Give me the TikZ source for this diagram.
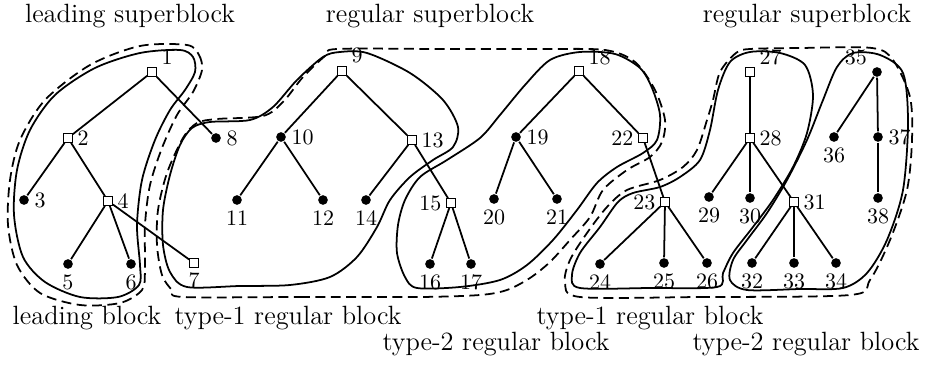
\documentclass[tikz,border=0pt]{standalone}
\begin{document}
\begin{tikzpicture}[
  x=0.4545pt, y=-0.4545pt,
  line width=0.8pt,
  sq/.style={draw, fill=white, inner sep=0pt, minimum size=3.8pt, line width=0.6pt},
  dot/.style={circle, fill, inner sep=0pt, minimum size=4.4pt},
  blk/.style={line width=0.8pt},
  sblk/.style={line width=0.8pt, dash pattern=on 4.5pt off 2.5pt},
  lbl/.style={font=\large, anchor=base},
  every label/.style={inner sep=1.8pt},
  label distance=0pt
]
\useasboundingbox (0,0) rectangle (928,369);

% leading superblock
\node[sq, label=30:1] (n1) at (152,72) {};
\node[sq, label=right:2] (n2) at (68,138) {};
\node[dot, label=right:3] (n3) at (24,200) {};
\node[sq, label=right:4] (n4) at (108,201) {};
\node[dot, label=below:5] (n5) at (68,264) {};
\node[dot, label=below:6] (n6) at (131,264) {};
\node[sq, label=below:7] (n7) at (194,263) {};
\node[dot, label=right:8] (n8) at (216,138) {};

% first regular superblock
\node[sq, label=30:9] (n9) at (342,71) {};
\node[dot, label=right:10] (n10) at (281,137) {};
\node[dot, label=below:11] (n11) at (237,200) {};
\node[dot, label=below:12] (n12) at (323,200) {};
\node[sq, label=right:13] (n13) at (412,140) {};
\node[dot, label=below:14] (n14) at (366,200) {};
\node[sq, label=left:15] (n15) at (451,203) {};
\node[dot, label=below:16] (n16) at (430,264) {};
\node[dot, label=below:17] (n17) at (471,264) {};
\node[sq, label=15:18] (n18) at (579,71) {};
\node[dot, label=right:19] (n19) at (516,137) {};
\node[dot, label=below:20] (n20) at (494,199) {};
\node[dot, label=below:21] (n21) at (557,199) {};
\node[sq, label=left:22] (n22) at (643,138) {};

% second regular superblock
\node[sq, label=left:23] (n23) at (665,202) {};
\node[dot, label=below:24] (n24) at (600,264) {};
\node[dot, label=below:25] (n25) at (664,263) {};
\node[dot, label=below:26] (n26) at (707,263) {};
\node[sq, label=20:27] (n27) at (750,72) {};
\node[sq, label=right:28] (n28) at (750,138) {};
\node[dot, label=below:29] (n29) at (709,197) {};
\node[dot, label=below:30] (n30) at (750,198) {};
\node[sq, label=right:31] (n31) at (794,202) {};
\node[dot, label=below:32] (n32) at (752,263) {};
\node[dot, label=below:33] (n33) at (794,263) {};
\node[dot, label=below:34] (n34) at (836,263) {};
\node[dot, label=160:35] (n35) at (877,72) {};
\node[dot, label=below:36] (n36) at (834,137) {};
\node[dot, label=right:37] (n37) at (878,137) {};
\node[dot, label=below:38] (n38) at (878,198) {};

% tree edges
\draw (n1) -- (n2);  \draw (n1) -- (n8);
\draw (n2) -- (n3);  \draw (n2) -- (n4);
\draw (n4) -- (n5);  \draw (n4) -- (n6);  \draw (n4) -- (n7);
\draw (n9) -- (n10); \draw (n9) -- (n13);
\draw (n10) -- (n11); \draw (n10) -- (n12);
\draw (n13) -- (n14); \draw (n13) -- (n15);
\draw (n15) -- (n16); \draw (n15) -- (n17);
\draw (n18) -- (n19); \draw (n18) -- (n22);
\draw (n19) -- (n20); \draw (n19) -- (n21);
\draw (n22) -- (n23);
\draw (n23) -- (n24); \draw (n23) -- (n25); \draw (n23) -- (n26);
\draw (n27) -- (n28);
\draw (n28) -- (n29); \draw (n28) -- (n30); \draw (n28) -- (n31);
\draw (n31) -- (n32); \draw (n31) -- (n33); \draw (n31) -- (n34);
\draw (n35) -- (n36); \draw (n35) -- (n37); \draw (n37) -- (n38);

% blocks
\draw[blk] plot[smooth cycle] coordinates {(180,50) (193,57) (195,72) (185,90) (170,110) (155,140) (142,180) (137,225) (140,265) (139,285) (118,297) (80,297) (45,282) (23,257) (14,215) (17,170) (30,130) (55,95) (95,68) (140,53)};
\draw[blk] plot[smooth cycle] coordinates {(187,287) (240,286) (290,285) (330,277) (357,257) (377,227) (390,200) (410,177) (433,160) (453,147) (458,127) (443,100) (410,73) (367,53) (340,52) (323,57) (297,80) (273,107) (250,120) (210,122) (192,128) (180,145) (170,175) (163,210) (163,245) (170,272)};
\draw[blk] plot[smooth cycle] coordinates {(417,288) (460,287) (500,280) (527,265) (553,240) (577,210) (597,183) (617,167) (643,153) (657,140) (660,115) (652,88) (640,68) (615,54) (580,52) (550,60) (525,85) (500,115) (480,138) (447,160) (420,177) (405,200) (398,225) (397,253) (405,277)};
\draw[blk] plot[smooth cycle] coordinates {(580,288) (650,288) (717,287) (723,273) (733,253) (753,227) (773,200) (793,167) (807,133) (813,95) (805,65) (780,53) (750,52) (730,62) (718,90) (710,130) (700,160) (680,177) (660,187) (633,193) (618,202) (600,227) (580,253) (572,275)};
\draw[blk] plot[smooth cycle] coordinates {(747,290) (800,289) (843,288) (867,273) (887,240) (903,190) (908,123) (903,73) (880,55) (853,53) (837,67) (823,100) (807,140) (787,180) (767,213) (747,240) (733,260) (730,280)};

% superblocks
\draw[sblk] plot[smooth cycle] coordinates {(187,45) (199,55) (202,70) (193,92) (177,115) (162,148) (150,185) (145,225) (145,270) (142,290) (120,303) (80,305) (40,293) (17,265) (8,225) (10,180) (20,140) (45,100) (90,65) (140,46)};
\draw[sblk] plot[smooth cycle] coordinates {(183,297) (300,297) (420,297) (480,295) (507,290) (530,278) (550,262) (570,240) (590,217) (603,190) (627,170) (650,157) (662,142) (665,120) (655,90) (635,62) (605,50) (540,49) (440,49) (337,49) (325,56) (303,77) (283,102) (263,116) (217,119) (197,123) (183,138) (167,173) (158,210) (157,245) (162,275) (172,290)};
\draw[sblk] plot[smooth cycle] coordinates {(580,297) (700,297) (850,295) (870,280) (890,240) (907,190) (912,140) (910,97) (893,60) (872,48) (800,48) (750,49) (736,53) (720,72) (713,100) (707,120) (697,150) (683,167) (660,180) (627,190) (607,207) (587,233) (570,260) (565,282)};

% captions
\node[lbl] (tLSB) at (130,23) {leading superblock};
\node[lbl] (tRSB1) at (430,23) {regular superblock};
\node[lbl] (tRSB2) at (807,23) {regular superblock};
\node[lbl] (tLB) at (87,325) {leading block};
\node[lbl] (tR1a) at (288,325) {type-1 regular block};
\node[lbl] (tR1b) at (650,325) {type-1 regular block};
\node[lbl] (tR2a) at (496,351) {type-2 regular block};
\node[lbl] (tR2b) at (806,351) {type-2 regular block};
\end{tikzpicture}
\end{document}
